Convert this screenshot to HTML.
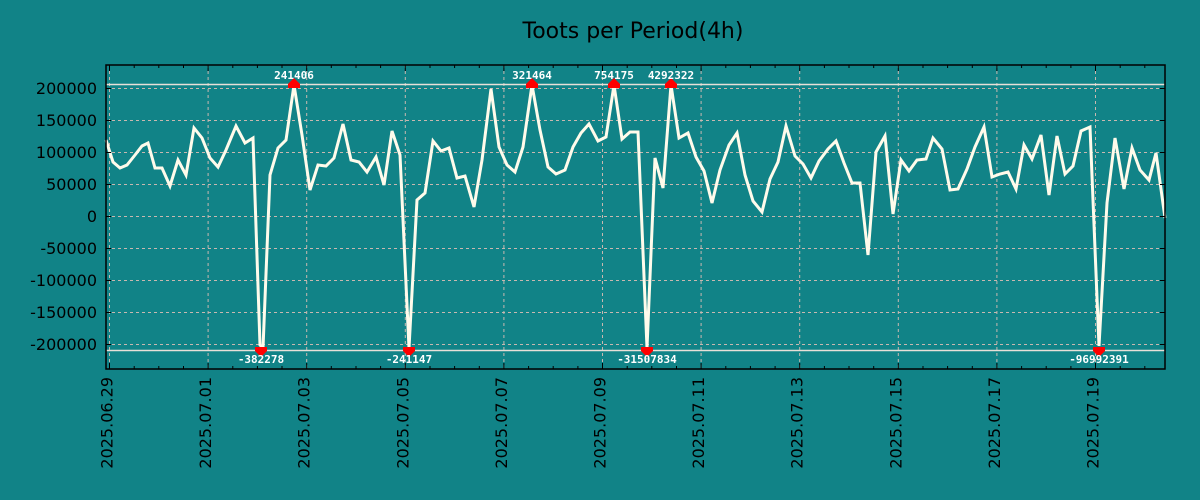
<!DOCTYPE html>
<html><head><meta charset="utf-8"><style>
html,body{margin:0;padding:0;background:#118387;}
svg{display:block;}
.t{font-family:"DejaVu Sans","Liberation Sans",sans-serif;fill:#000;}
.a{font-family:"DejaVu Sans Mono","Liberation Mono",monospace;font-weight:bold;font-size:11px;fill:#fff;}
</style></head><body>
<svg width="1200" height="500" xmlns="http://www.w3.org/2000/svg">
<rect width="1200" height="500" fill="#118387"/>
<text class="t" x="633" y="38" font-size="22" text-anchor="middle">Toots per Period(4h)</text>
<g stroke="#c8b8b0" stroke-width="1" stroke-dasharray="3,3">
<line x1="106" x2="1165" y1="88.5" y2="88.5"/><line x1="106" x2="1165" y1="120.5" y2="120.5"/>
<line x1="106" x2="1165" y1="152.5" y2="152.5"/><line x1="106" x2="1165" y1="184.5" y2="184.5"/>
<line x1="106" x2="1165" y1="216.5" y2="216.5"/><line x1="106" x2="1165" y1="248.5" y2="248.5"/>
<line x1="106" x2="1165" y1="280.5" y2="280.5"/><line x1="106" x2="1165" y1="312.5" y2="312.5"/>
<line x1="106" x2="1165" y1="344.5" y2="344.5"/>
<line y1="65" y2="369" x1="109.5" x2="109.5"/><line y1="65" y2="369" x1="208.1" x2="208.1"/>
<line y1="65" y2="369" x1="306.7" x2="306.7"/><line y1="65" y2="369" x1="405.3" x2="405.3"/>
<line y1="65" y2="369" x1="503.9" x2="503.9"/><line y1="65" y2="369" x1="602.5" x2="602.5"/>
<line y1="65" y2="369" x1="701.1" x2="701.1"/><line y1="65" y2="369" x1="799.7" x2="799.7"/>
<line y1="65" y2="369" x1="898.3" x2="898.3"/><line y1="65" y2="369" x1="996.9" x2="996.9"/>
<line y1="65" y2="369" x1="1095.5" x2="1095.5"/>
</g>
<line x1="106" x2="1165" y1="84.5" y2="84.5" stroke="#e8e0d8" stroke-width="1.5"/>
<line x1="106" x2="1165" y1="350.5" y2="350.5" stroke="#e8e0d8" stroke-width="1.5"/>
<polyline fill="none" stroke="#fffbeb" stroke-width="3" stroke-linejoin="miter" points="106,140 113,162 120,168 127,165 135,155 142,146 148,143 155,168 162,168 170,186 178,160 186,175 194,128 202,138 210,158 218,167 226,150 236,126 245,143 253,138 260,345 263,348 270,175 278,148 286,140 294,85 302,135 310,190 318,165 326,166 334,158 343,124 351,160 359,162 367,172 376,157 384,185 392,131 400,155 409,348 417,200 425,193 433,141 441,151 449,148 457,178 465,176 474,207 482,160 491,89 499,147 507,165 515,172 523,147 532,85 540,130 548,167 556,174 565,170 573,147 581,133 589,124 598,141 606,137 614,85 622,139 630,132 638,132 647,348 655,158 663,188 671,85 679,138 688,133 696,157 704,171 712,203 720,170 729,145 737,133 745,175 753,201 762,212 770,179 778,162 786,126 795,156 803,164 811,178 819,161 828,149 836,141 844,163 852,183 860,183 868,255 876,152 885,136 893,214 901,160 909,171 917,160 926,159 933,138 942,149 950,190 958,189 967,169 975,147 984,127 992,177 1000,174 1008,172 1016,189 1024,145 1032,159 1041,135 1049,195 1057,136 1065,174 1073,166 1081,131 1090,127 1099,346 1107,203 1115,138 1124,189 1132,148 1140,170 1149,180 1156,153 1165,218"/>
<g fill="#f00">
<path d="M288,88h12v-4l-6,-6l-6,6z"/><path d="M526,88h12v-4l-6,-6l-6,6z"/><path d="M608,88h12v-4l-6,-6l-6,6z"/><path d="M665,88h12v-4l-6,-6l-6,6z"/>
<path d="M255,347h12v4l-6,6l-6,-6z"/><path d="M403,347h12v4l-6,6l-6,-6z"/><path d="M641,347h12v4l-6,6l-6,-6z"/><path d="M1093,347h12v4l-6,6l-6,-6z"/>
</g>
<g class="a" text-anchor="middle">
<text x="294" y="79">241406</text><text x="532" y="79">321464</text><text x="614" y="79">754175</text><text x="671" y="79">4292322</text>
<text x="261" y="363">-382278</text><text x="409" y="363">-241147</text><text x="647" y="363">-31507834</text><text x="1099" y="363">-96992391</text>
</g>
<rect x="106" y="65" width="1059" height="304" fill="none" stroke="#000" stroke-width="1.5"/>
<g stroke="#000" stroke-width="1">
<path d="M106,88.5h5M106,120.5h5M106,152.5h5M106,184.5h5M106,216.5h5M106,248.5h5M106,280.5h5M106,312.5h5M106,344.5h5"/>
<path d="M1165,88.5h-5M1165,120.5h-5M1165,152.5h-5M1165,184.5h-5M1165,216.5h-5M1165,248.5h-5M1165,280.5h-5M1165,312.5h-5M1165,344.5h-5"/>
<path d="M109.5,369v-6M134.2,369v-3M158.8,369v-3M183.5,369v-3M208.1,369v-6M232.8,369v-3M257.4,369v-3M282,369v-3M306.7,369v-6M331.3,369v-3M356,369v-3M380.6,369v-3M405.3,369v-6M430,369v-3M454.6,369v-3M479.3,369v-3M503.9,369v-6M528.6,369v-3M553.2,369v-3M577.9,369v-3M602.5,369v-6M627.2,369v-3M651.8,369v-3M676.5,369v-3M701.1,369v-6M725.8,369v-3M750.4,369v-3M775.1,369v-3M799.7,369v-6M824.4,369v-3M849,369v-3M873.7,369v-3M898.3,369v-6M923,369v-3M947.6,369v-3M972.3,369v-3M996.9,369v-6M1021.6,369v-3M1046.2,369v-3M1070.9,369v-3M1095.5,369v-6M1120.2,369v-3M1144.8,369v-3"/>
<path d="M109.5,65v6M134.2,65v3M158.8,65v3M183.5,65v3M208.1,65v6M232.8,65v3M257.4,65v3M282,65v3M306.7,65v6M331.3,65v3M356,65v3M380.6,65v3M405.3,65v6M430,65v3M454.6,65v3M479.3,65v3M503.9,65v6M528.6,65v3M553.2,65v3M577.9,65v3M602.5,65v6M627.2,65v3M651.8,65v3M676.5,65v3M701.1,65v6M725.8,65v3M750.4,65v3M775.1,65v3M799.7,65v6M824.4,65v3M849,65v3M873.7,65v3M898.3,65v6M923,65v3M947.6,65v3M972.3,65v3M996.9,65v6M1021.6,65v3M1046.2,65v3M1070.9,65v3M1095.5,65v6M1120.2,65v3M1144.8,65v3"/>
</g>
<g class="t" font-size="16" text-anchor="end">
<text x="97" y="94">200000</text><text x="97" y="126">150000</text><text x="97" y="158">100000</text><text x="97" y="190">50000</text>
<text x="97" y="222">0</text><text x="97" y="254">-50000</text><text x="97" y="286">-100000</text><text x="97" y="318">-150000</text><text x="97" y="350">-200000</text>
</g>
<g class="t" font-size="16" text-anchor="end">
<text transform="translate(112.5,377) rotate(-90)">2025.06.29</text>
<text transform="translate(211.1,377) rotate(-90)">2025.07.01</text>
<text transform="translate(309.7,377) rotate(-90)">2025.07.03</text>
<text transform="translate(408.3,377) rotate(-90)">2025.07.05</text>
<text transform="translate(506.9,377) rotate(-90)">2025.07.07</text>
<text transform="translate(605.5,377) rotate(-90)">2025.07.09</text>
<text transform="translate(704.1,377) rotate(-90)">2025.07.11</text>
<text transform="translate(802.7,377) rotate(-90)">2025.07.13</text>
<text transform="translate(901.3,377) rotate(-90)">2025.07.15</text>
<text transform="translate(999.9,377) rotate(-90)">2025.07.17</text>
<text transform="translate(1098.5,377) rotate(-90)">2025.07.19</text>
</g>
</svg>
</body></html>
